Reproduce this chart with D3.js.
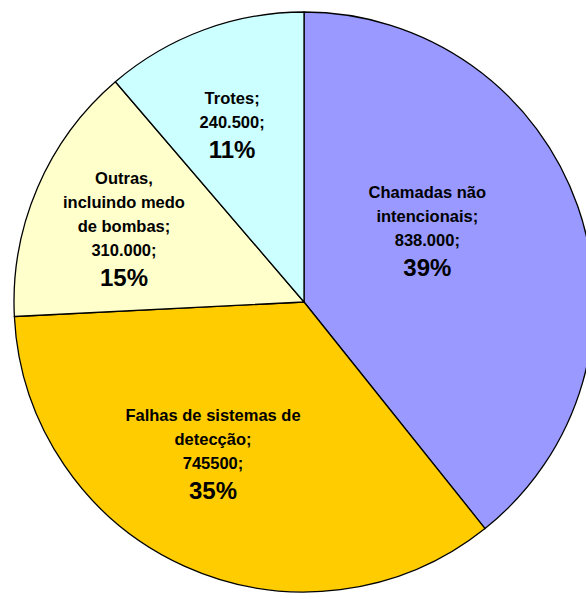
<!DOCTYPE html>
<html>
<head>
<meta charset="utf-8">
<script src="https://cdn.jsdelivr.net/npm/d3@7"></script>
<style>
  html, body { margin: 0; padding: 0; background: #fff; }
  svg { display: block; }
  text { font-family: "Liberation Sans", Arial, sans-serif; font-weight: bold; fill: #000; }
</style>
</head>
<body>
<svg id="chart" width="586" height="594"></svg>
<script>
// ---- data ----
const categories = [
  ["Chamadas não", "intencionais;"],
  ["Falhas de sistemas de", "detecção;"],
  ["Outras,", "incluindo medo", "de bombas;"],
  ["Trotes;"]
];
const values = [838000, 745500, 310000, 240500];
const valueLabels = ["838.000;", "745500;", "310.000;", "240.500;"];
const colors = ["#9999FF", "#FFCC00", "#FFFFCC", "#CCFFFF"];

// ---- layout ----
const cx = 304, cy = 302, R = 290;
// label placement: radius fraction and angular nudge (radians) per slice
const labelLayout = [
  { rf: 0.49, da: -0.183 },
  { rf: 0.61, da: 0.117 },
  { rf: 0.67, da: -0.021 },
  { rf: 0.66, da: -0.031 }
];
const smallSize = 16.5, bigSize = 24, lineGap = 24, pctGap = 30, capH = 12;

const svg = d3.select("#chart");
const g = svg.append("g").attr("transform", `translate(${cx},${cy})`);

const pie = d3.pie().sort(null).value(d => d).startAngle(0).endAngle(2 * Math.PI);
const arcs = pie(values);
const arc = d3.arc().innerRadius(0).outerRadius(R);
const total = d3.sum(values);

g.selectAll("path.slice")
  .data(arcs)
  .join("path")
  .attr("class", "slice")
  .attr("d", arc)
  .attr("fill", (d, i) => colors[i])
  .attr("stroke", "#000")
  .attr("stroke-width", 1.3)
  .attr("stroke-linejoin", "round");

const fmtPct = v => Math.round(v * 100) + "%";

arcs.forEach((a, i) => {
  const lay = labelLayout[i];
  const mid = (a.startAngle + a.endAngle) / 2 + lay.da;
  const r = R * lay.rf;
  const x = r * Math.sin(mid);
  const y = -r * Math.cos(mid);
  const lines = categories[i].concat([valueLabels[i]]);
  const n = lines.length;
  const blockH = capH + lineGap * (n - 1) + pctGap;
  const top = y - blockH / 2;
  const firstBase = top + capH;
  const t = g.append("text").attr("text-anchor", "middle");
  lines.forEach((ln, j) => {
    t.append("tspan")
      .attr("x", x)
      .attr("y", firstBase + j * lineGap)
      .style("font-size", smallSize + "px")
      .text(ln);
  });
  t.append("tspan")
    .attr("x", x)
    .attr("y", firstBase + (n - 1) * lineGap + pctGap)
    .style("font-size", bigSize + "px")
    .text(fmtPct(values[i] / total));
});
</script>
</body>
</html>
